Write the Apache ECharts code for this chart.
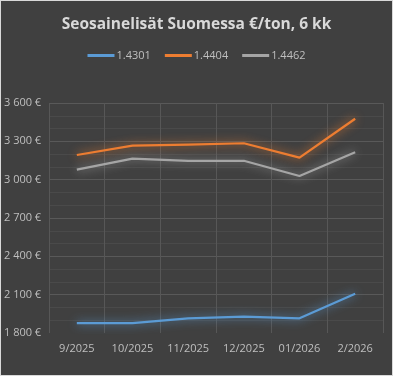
<!DOCTYPE html>
<html>
<head>
<meta charset="utf-8">
<script src="https://cdn.jsdelivr.net/npm/echarts@6/dist/echarts.min.js"></script>
<style>
  html, body { margin: 0; padding: 0; background: #404040; }
  #chart { width: 391px; height: 374px; border: 1px solid #d9d9d9; }
</style>
</head>
<body>
<div id="chart"></div>
<script>
const months = ['9/2025', '10/2025', '11/2025', '12/2025', '01/2026', '2/2026']
const s4301 = [1878, 1878, 1915, 1928, 1915, 2107]
const s4404 = [3193, 3266, 3275, 3285, 3172, 3477]
const s4462 = [3078, 3164, 3148, 3148, 3029, 3214]

const chart = echarts.init(document.getElementById('chart'))

function lineSeries (name, data, color) {
  return {
    name,
    type: 'line',
    data,
    showSymbol: false,
    symbol: 'none',
    lineStyle: {
      color,
      width: 2.25,
      shadowColor: color,
      shadowBlur: 10
    },
    itemStyle: { color }
  }
}

chart.setOption({
  backgroundColor: '#404040',
  title: {
    text: 'Seosainelisät Suomessa €/ton, 6 kk',
    left: 'center',
    top: 11,
    textStyle: {
      color: '#d9d9d9',
      fontSize: 15.5,
      fontWeight: 'bold',
      fontFamily: 'Open Sans'
    }
  },
  legend: {
    top: 44,
    left: 'center',
    itemWidth: 27,
    itemHeight: 3,
    itemGap: 14,
    icon: 'rect',
    textStyle: { color: '#bfbfbf', fontSize: 11, fontFamily: 'Open Sans', padding: [0, 0, 0, -3] },
    data: ['1.4301', '1.4404', '1.4462']
  },
  grid: {
    left: 48,
    right: 9,
    top: 102,
    bottom: 42
  },
  xAxis: {
    type: 'category',
    data: months,
    boundaryGap: true,
    axisLine: { show: false },
    axisTick: { show: false },
    axisLabel: { color: '#bfbfbf', fontSize: 11, fontFamily: 'Open Sans', margin: 10, interval: 0 },
    splitLine: { show: true, interval: 0, lineStyle: { color: '#575757', width: 1 } }
  },
  yAxis: {
    type: 'value',
    min: 1800,
    max: 3600,
    interval: 300,
    axisLine: { show: false },
    axisTick: { show: false },
    axisLabel: {
      color: '#bfbfbf',
      fontSize: 11,
      fontFamily: 'Open Sans',
      align: 'left',
      margin: 45,
      formatter: v => String(v).replace(/(\d)(\d{3})$/, '$1 $2') + ' €'
    },
    splitLine: {
      show: true,
      lineStyle: {
        color: ['#404040', '#595959', '#595959', '#595959', '#595959', '#595959', '#595959'],
        width: 1
      }
    },
    minorTick: { show: false, splitNumber: 3 },
    minorSplitLine: { show: true, lineStyle: { color: '#4a4a4a', width: 1 } }
  },
  series: [
    lineSeries('1.4301', s4301, '#5b9bd5'),
    lineSeries('1.4404', s4404, '#ed7d31'),
    lineSeries('1.4462', s4462, '#a5a5a5')
  ]
})
</script>
</body>
</html>
